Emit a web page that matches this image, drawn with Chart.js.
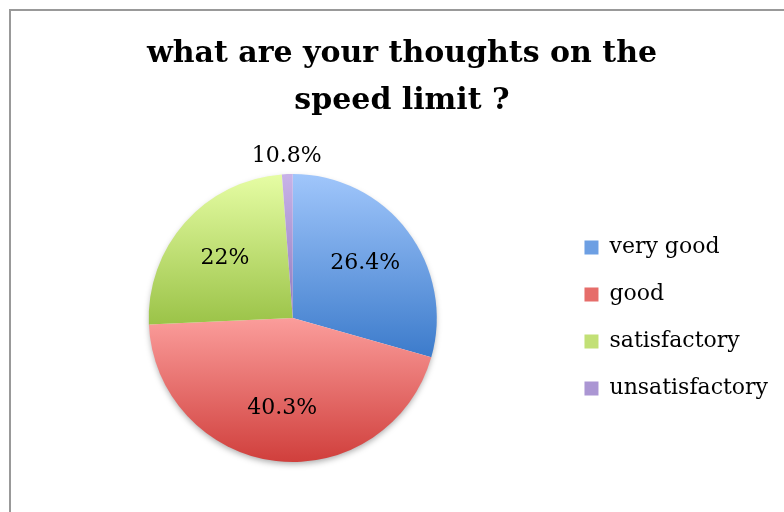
<!DOCTYPE html>
<html>
<head>
<meta charset="utf-8">
<script src="https://cdn.jsdelivr.net/npm/chart.js@4"></script>
<style>
  html, body { margin: 0; padding: 0; background: #fff; }
  .frame { position: absolute; left: 9px; top: 9px; width: 900px; height: 700px;
           border-left: 2px solid #999; border-top: 2px solid #999; }
  .chart-container { position: absolute; left: 0; top: 0; width: 784px; height: 512px; }
</style>
</head>
<body>
<div class="frame"></div>
<div class="chart-container"><canvas id="pie"></canvas></div>
<script>
const categories = ['very good', 'good', 'satisfactory', 'unsatisfactory'];
const values = [26.4, 40.3, 22, 1.08];
const valueLabels = ['26.4%', '40.3%', '22%', '10.8%'];

// light top / dark bottom like the office gradient fill
const topColors = ['#a0c6fb', '#fb9d9b', '#e6fda4', '#c8b3e8'];
const bottomColors = ['#3c7bcb', '#d03f3c', '#9bc348', '#8f79bd'];
const legendColors = ['#6d9fe3', '#e66d6a', '#c2e076', '#ab96d3'];

const serif = "'DejaVu Serif', serif";

// bounding box of one slice, so each slice gets its own gradient
function sliceBox(cx, cy, r, a0, a1) {
  const ys = [cy, cy + Math.sin(a0) * r, cy + Math.sin(a1) * r];
  for (let k = -4; k <= 4; k++) {
    const a = k * Math.PI / 2;
    if (a > a0 && a < a1) ys.push(cy + Math.sin(a) * r);
  }
  return { top: Math.min(...ys), bottom: Math.max(...ys) };
}

function sliceGradient(context) {
  const chart = context.chart;
  const area = chart.chartArea;
  if (!area) return legendColors[context.dataIndex];
  const i = context.dataIndex;
  const cx = (area.left + area.right) / 2;
  const cy = (area.top + area.bottom) / 2;
  const r = Math.min(area.width, area.height) / 2;
  const total = values.reduce((s, v) => s + v, 0);
  let before = 0;
  for (let k = 0; k < i; k++) before += values[k];
  const a0 = -Math.PI / 2 + before / total * Math.PI * 2;
  const a1 = a0 + values[i] / total * Math.PI * 2;
  const box = sliceBox(cx, cy, r, a0, a1);
  const g = chart.ctx.createLinearGradient(0, box.top, 0, box.bottom);
  g.addColorStop(0, topColors[i]);
  g.addColorStop(1, bottomColors[i]);
  return g;
}

const pieShadow = {
  id: 'pieShadow',
  beforeDatasetsDraw(chart) {
    const arc = chart.getDatasetMeta(0).data[0];
    if (!arc) return;
    const ctx = chart.ctx;
    ctx.save();
    ctx.shadowColor = 'rgba(0,0,0,0.35)';
    ctx.shadowBlur = 6;
    ctx.shadowOffsetY = 3;
    ctx.fillStyle = '#fff';
    ctx.beginPath();
    ctx.arc(arc.x, arc.y, arc.outerRadius - 1, 0, Math.PI * 2);
    ctx.fill();
    ctx.restore();
  }
};

const sliceLabels = {
  id: 'sliceLabels',
  afterDatasetsDraw(chart) {
    const ctx = chart.ctx;
    const total = values.reduce((s, v) => s + v, 0);
    ctx.save();
    ctx.font = '22px ' + serif;
    ctx.fillStyle = '#000';
    ctx.textAlign = 'center';
    ctx.textBaseline = 'middle';
    chart.getDatasetMeta(0).data.forEach((arc, i) => {
      const mid = (arc.startAngle + arc.endAngle) / 2;
      const small = values[i] / total < 0.05;
      const dist = small ? arc.outerRadius + 18 : arc.outerRadius * 0.63;
      ctx.fillText(valueLabels[i], arc.x + Math.cos(mid) * dist, arc.y + Math.sin(mid) * dist);
    });
    ctx.restore();
  }
};

new Chart(document.getElementById('pie'), {
  type: 'pie',
  data: {
    labels: categories,
    datasets: [{
      data: values,
      backgroundColor: sliceGradient,
      borderWidth: 0
    }]
  },
  options: {
    responsive: true,
    maintainAspectRatio: false,
    animation: false,
    layout: { padding: { left: 26, right: 6, top: 0, bottom: 50 } },
    plugins: {
      title: {
        display: true,
        text: ['what are your thoughts on the', 'speed limit ?'],
        color: '#000',
        font: { family: serif, size: 30, weight: 'bold', lineHeight: 1.55 },
        padding: { top: 31, bottom: 50 }
      },
      legend: {
        position: 'right',
        align: 'center',
        fullSize: false,
        labels: {
          color: '#000',
          font: { family: serif, size: 22 },
          boxWidth: 14,
          boxHeight: 14,
          padding: 25,
          generateLabels(chart) {
            const items = Chart.overrides.pie.plugins.legend.labels.generateLabels(chart);
            items.forEach((it, i) => {
              it.fillStyle = legendColors[i];
              it.strokeStyle = legendColors[i];
              it.lineWidth = 0;
            });
            return items;
          }
        }
      },
      tooltip: { enabled: false }
    }
  },
  plugins: [pieShadow, sliceLabels]
});
</script>
</body>
</html>
